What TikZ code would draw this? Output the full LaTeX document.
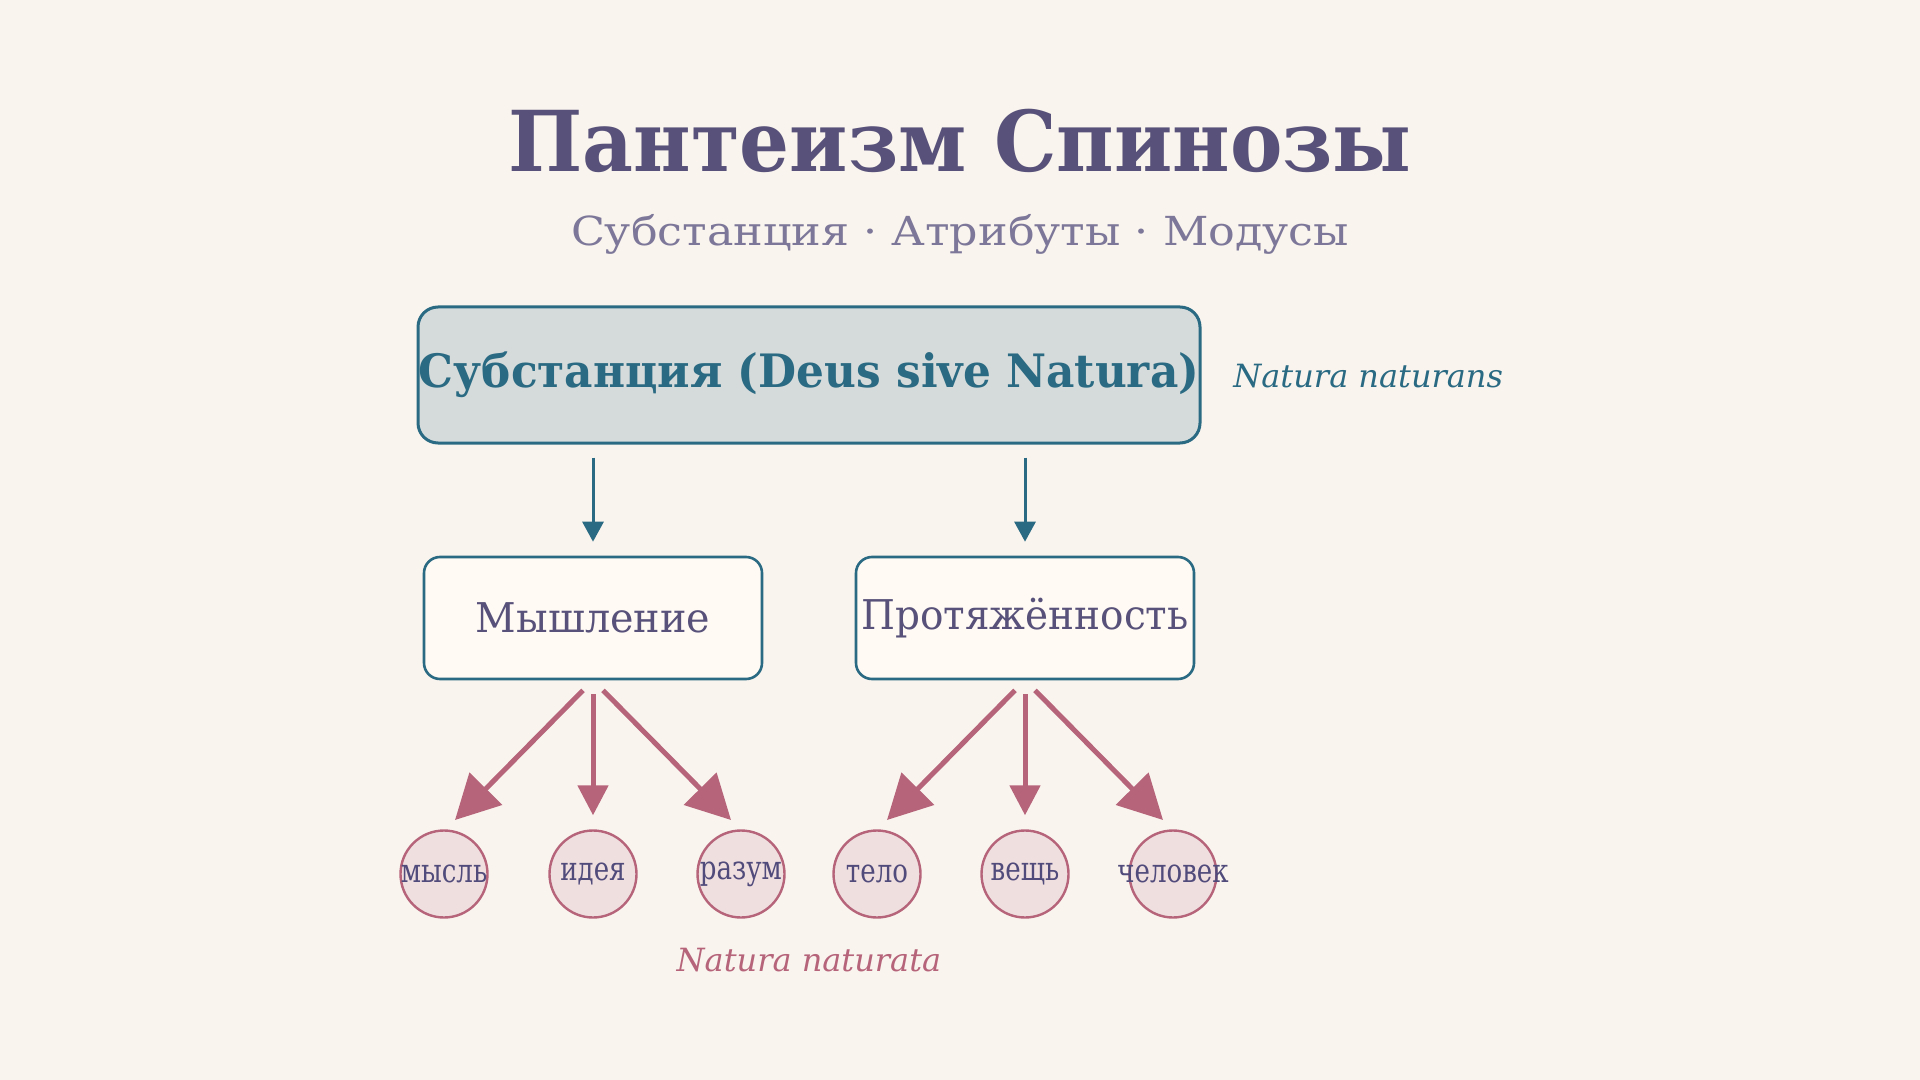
\documentclass[tikz,border=0pt]{standalone}
\usepackage{fontspec}
\setmainfont{DejaVu Serif}
\definecolor{bgcream}{HTML}{FAF4EE}
\definecolor{titlepurple}{HTML}{58527A}
\definecolor{subgray}{HTML}{7D7899}
\definecolor{subteal}{HTML}{2A6A82}
\definecolor{subfill}{HTML}{D5DBDB}
\definecolor{attrfill}{HTML}{FFFAF4}
\definecolor{modepink}{HTML}{B5647A}
\definecolor{modefill}{HTML}{F0DFDF}
\definecolor{modetext}{HTML}{504B7B}
\usetikzlibrary{arrows.meta, positioning}
% narrow or widen a text without changing its height
\newcommand{\squeeze}[2]{\scalebox{#1}[1]{#2}}
\newcommand{\modeword}[1]{\makebox[0pt]{\squeeze{0.79}{#1}}}

\begin{document}
\begin{tikzpicture}[x=0.5pt, y=-0.5pt,
  substbox/.style={draw=subteal, line width=1.5pt, fill=subfill, rounded corners=10pt,
    minimum width=391pt, minimum height=68pt, inner sep=0pt,
    font=\fontsize{23}{27}\selectfont\bfseries, text=subteal},
  attrbox/.style={draw=subteal, line width=1.3pt, fill=attrfill, rounded corners=8pt,
    minimum width=169pt, minimum height=61pt, inner sep=0pt,
    font=\fontsize{20.5}{24}\selectfont, text=titlepurple},
  modecircle/.style={circle, draw=modepink, line width=1.2pt, fill=modefill,
    minimum size=43.5pt, inner sep=0pt, font=\fontsize{16.5}{19}\selectfont, text=modetext},
  attrarrow/.style={draw=subteal, line width=1.5pt, -{Triangle[length=10pt, width=10.5pt]}},
  modearrow/.style={draw=modepink, line width=2.5pt, -{Triangle[length=15pt, width=15pt]}},
  modediag/.style={draw=modepink, line width=2.5pt, -{Triangle[length=22pt, width=22.5pt]}},
  latin/.style={font=\fontsize{16}{19}\selectfont\itshape, inner sep=0pt}]

  % Background
  \fill[bgcream] (0,0) rectangle (1920,1080);

  % Title
  \node[font=\fontsize{42}{50}\selectfont\bfseries, text=titlepurple, anchor=base] (title) at (960,172) {\squeeze{0.936}{Пантеизм Спинозы}};
  \node[font=\fontsize{20}{24}\selectfont, text=subgray, anchor=base] (subtitle) at (960,246) {\squeeze{1.11}{Субстанция · Атрибуты · Модусы}};

  % Substance
  \node[substbox] (substance) at (809,375) {\squeeze{0.953}{Субстанция (Deus sive Natura)}};
  \node[latin, text=subteal, anchor=base west] (naturans) at (1233,387) {Natura naturans};

  % Attributes
  \node[attrbox] (think) at (593,618) {\squeeze{0.968}{Мышление}};
  \node[attrbox] (extension) at (1025,618) {\squeeze{0.95}{Протяжённость}};

  \draw[attrarrow, shorten <=6.5pt, shorten >=7pt] (substance.south -| think.north) -- (think.north);
  \draw[attrarrow, shorten <=6.5pt, shorten >=7pt] (substance.south -| extension.north) -- (extension.north);

  % Modes
  \node[modecircle] (thought) at (444,874) {\modeword{мысль}};
  \node[modecircle] (idea) at (593,874) {\modeword{идея}};
  \node[modecircle] (reason) at (741,874) {\modeword{разум}};
  \node[modecircle] (body) at (877,874) {\modeword{тело}};
  \node[modecircle] (thing) at (1025,874) {\modeword{вещь}};
  \node[modecircle] (human) at (1173,874) {\modeword{человек}};

  \coordinate (thought-tip) at (455,820);
  \coordinate (reason-tip) at (731,820);
  \coordinate (body-tip) at (887,820);
  \coordinate (human-tip) at (1163,820);

  \draw[modediag] ([shift={(-5pt,-5pt)}]think.south) -- (thought-tip);
  \draw[modearrow, shorten <=7pt, shorten >=7pt] (think.south) -- (idea.north);
  \draw[modediag] ([shift={(5pt,-5pt)}]think.south) -- (reason-tip);
  \draw[modediag] ([shift={(-5pt,-5pt)}]extension.south) -- (body-tip);
  \draw[modearrow, shorten <=7pt, shorten >=7pt] (extension.south) -- (thing.north);
  \draw[modediag] ([shift={(5pt,-5pt)}]extension.south) -- (human-tip);

  \node[latin, text=modepink, anchor=base] (naturata) at (809,971) {Natura naturata};
\end{tikzpicture}
\end{document}
